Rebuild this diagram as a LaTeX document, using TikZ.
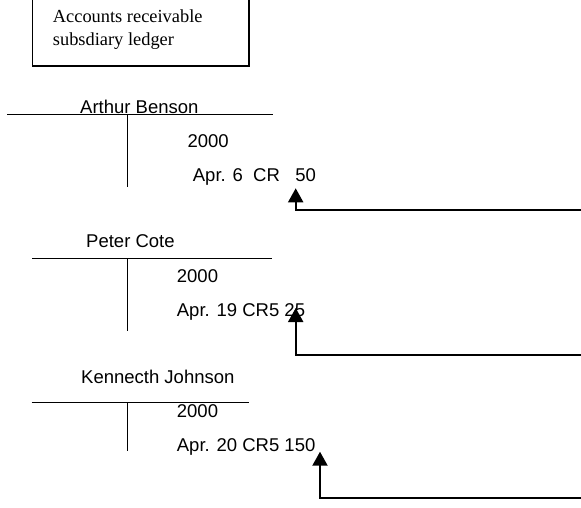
\documentclass[tikz,border=0pt]{standalone}
\usepackage{fontspec}
\setmainfont{Liberation Serif}
\newfontfamily\labelfont{Liberation Sans}
\usetikzlibrary{arrows.meta}
\tikzset{
  ledgertext/.style={inner sep=0pt, anchor=base west, font=\fontsize{18.4}{22}\selectfont},
  acct/.style={inner sep=0pt, anchor=base west, font=\labelfont\fontsize{18.5}{22}\selectfont},
  rule/.style={line width=1.5pt},
  post/.style={line width=2pt, -{Triangle[width=15pt,length=14pt]}}
}
\begin{document}
\begin{tikzpicture}[x=1pt,y=-1pt]
\useasboundingbox (0,0) rectangle (581,507);

% subsidiary ledger caption box (top edge runs off the page)
\node (ledger) [rule, draw, anchor=south west, minimum width=216.6pt, minimum height=80pt, inner sep=0pt] at (31.7,66.7) {};
\node (ledgerA) [ledgertext] at (52.7,22.7) {Accounts receivable};
\node (ledgerB) [ledgertext] at (52.7,45.3) {subsdiary ledger};

% T-account: Arthur Benson
\node (ab) [acct] at (80,113.5) {Arthur Benson};
\coordinate (abL) at (7.3,114.7);
\coordinate (abR) at (272.7,114.7);
\coordinate (abT) at (127.7,114.7);
\coordinate (abB) at (127.7,186.7);
\draw[rule] (abL) -- (abR);
\draw[rule] (abT) -- (abB);
\node (abyr) [acct] at (187.3,147.3) {2000};
\node (abcr) [acct] at (192.7,181) {Apr. 6~~CR~~~50};

% T-account: Peter Cote
\node (pc) [acct] at (86,247.3) {Peter Cote};
\coordinate (pcL) at (32,258.7);
\coordinate (pcR) at (272,258.7);
\coordinate (pcT) at (127.7,258.7);
\coordinate (pcB) at (127.7,330.7);
\draw[rule] (pcL) -- (pcR);
\draw[rule] (pcT) -- (pcB);
\node (pcyr) [acct] at (176.7,282.7) {2000};
\node (pccr) [acct] at (176.7,316) {Apr. 19 CR5 25};

% T-account: Kennecth Johnson
\node (kj) [acct] at (81,383.3) {Kennecth Johnson};
\coordinate (kjL) at (31.7,402.3);
\coordinate (kjR) at (249,402.3);
\coordinate (kjT) at (127.7,402.3);
\coordinate (kjB) at (127.7,450.7);
\draw[rule] (kjL) -- (kjR);
\draw[rule] (kjT) -- (kjB);
\node (kjyr) [acct] at (176.7,417.3) {2000};
\node (kjcr) [acct] at (176.7,451) {Apr. 20 CR5 150};

% posting arrows coming in from the cash receipts journal
\coordinate (src1) at (585,210);
\coordinate (tip1) at (295.7,188.3);
\draw[post] (src1) -| (tip1);

\coordinate (src2) at (585,354.5);
\coordinate (tip2) at (295.7,308);
\draw[post] (src2) -| (tip2);

\coordinate (src3) at (585,498.3);
\coordinate (tip3) at (320,451.7);
\draw[post] (src3) -| (tip3);
\end{tikzpicture}
\end{document}
